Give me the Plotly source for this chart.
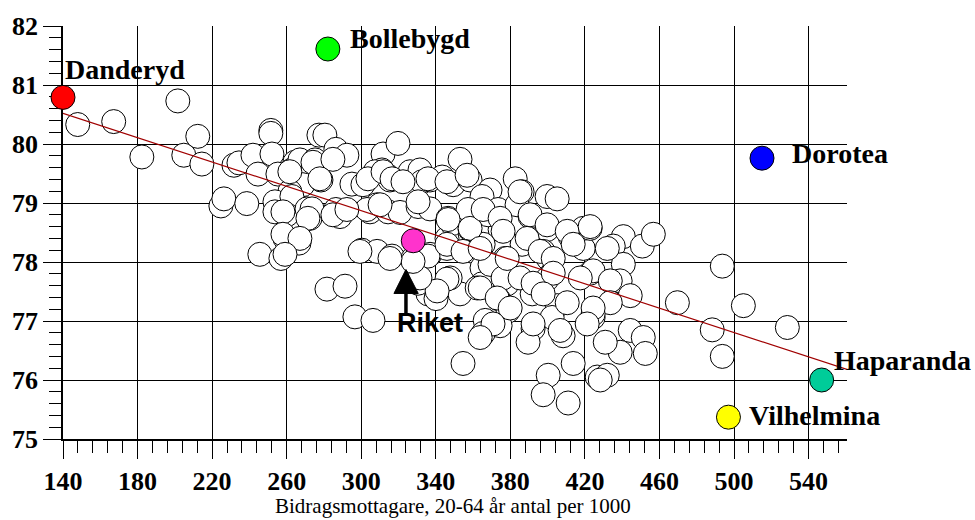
import plotly.graph_objects as go

# Kommuner: bidragsmottagare 20-64 år (antal per 1000) vs medellivslängd
kommun_x = [
    147.9, 167.2, 182.3, 201.6, 204.8, 212.3, 214.5, 224.7, 226.3, 231.7,
    234.4, 238.6, 241.9, 244.6, 251.5, 251.5, 245.6, 256.9,
    252.1, 255.3, 264.4, 262.8, 267.1, 275.2, 277.3, 280.5, 286.4, 292.3,
    274.1, 268.7, 278.4, 261.7, 253.7, 262.8, 253.7, 260.1, 270.9, 272.5,
    259.1, 266.6, 286.4, 288.6, 295.0, 300.9, 281.6, 291.3, 296.6, 306.3,
    311.7, 319.7, 311.1, 313.8, 307.4, 315.4, 326.2, 331.5, 332.6, 336.9,
    343.4, 304.7, 308.5, 303.1, 314.4, 320.8, 330.5, 336.9, 330.5, 300.4,
    308.5, 316.5, 327.8, 336.9, 335.8, 330.5, 341.2, 346.6, 346.6, 346.0,
    340.1, 353.0,
    353.0, 349.3, 358.4, 369.1, 364.8, 382.6, 386.3, 399.7, 405.1, 348.7,
    357.3, 358.4, 363.8, 374.5, 368.1, 373.4, 383.6, 390.6, 399.7, 412.1,
    419.1, 419.1, 346.0, 360.0, 365.4, 377.2, 386.3, 397.6, 400.3, 402.4,
    422.8, 364.8, 347.7, 364.8, 378.3, 335.8, 369.1, 362.2, 373.4, 378.8,
    366.5, 374.5, 365.4, 391.7, 399.7, 405.1, 402.4, 392.2, 389.5, 408.3,
    413.7, 400.3, 397.6, 411.0, 354.6, 424.4, 426.6, 376.1,
    422.8, 440.6, 435.2, 450.8, 456.7, 424.4, 440.6, 438.9, 433.6, 444.3,
    433.6, 424.4, 444.3, 451.3, 452.4, 438.9, 430.9, 432.0, 428.2, 493.7,
    469.6, 505.0, 488.3, 493.7, 528.6,
    274.1, 284.8, 261.7, 277.8, 303.6, 311.7, 316.5, 322.4, 335.8, 346.0,
    356.8, 385.2, 258.0, 273.6, 271.4, 284.8, 292.3, 310.1, 346.6, 358.4,
    365.4, 374.5, 390.6, 399.7, 410.5, 422.8, 389.0, 376.1, 258.0, 267.1,
    259.1, 299.3, 346.0, 354.6, 363.8, 378.3, 396.0, 403.0, 413.7, 432.0,
    346.0, 340.7, 363.8, 372.9, 379.9, 385.2, 392.2, 403.0, 397.6, 410.5,
    417.5, 424.4, 370.7, 392.2, 406.7, 421.2, 363.8, 331.5, 327.8, 315.4,
]
kommun_y = [
    80.33, 80.38, 79.78, 80.73, 79.81, 80.13, 79.66, 78.95, 79.07, 79.64,
    79.68, 78.99, 79.81, 79.49, 80.23, 80.18, 78.13, 78.06,
    79.83, 79.49, 79.69, 79.56, 79.73, 79.73, 80.15, 80.15, 79.91, 79.81,
    79.56, 79.31, 79.39, 79.19, 79.02, 79.11, 78.85, 78.80, 78.90, 78.74,
    78.40, 78.32, 78.89, 78.77, 79.32, 79.31, 77.54, 77.59, 77.07, 77.01,
    79.83, 80.01, 79.56, 79.47, 79.53, 79.39, 79.53, 79.56, 79.36, 79.39,
    79.44, 78.85, 78.97, 78.89, 78.85, 78.84, 78.94, 78.90, 79.02, 78.20,
    78.18, 78.10, 78.06, 78.13, 77.46, 77.64, 77.51, 77.68, 78.74, 78.40,
    77.38, 77.46,
    79.74, 79.31, 79.39, 79.22, 79.11, 79.41, 79.19, 79.11, 79.07, 78.65,
    78.89, 78.55, 78.60, 78.55, 78.80, 78.89, 78.97, 78.77, 78.55, 78.43,
    78.23, 78.57, 78.23, 78.18, 78.30, 78.06, 78.30, 78.18, 78.06, 77.81,
    77.81, 77.90, 77.73, 77.63, 77.63, 78.10, 77.96, 77.56, 77.38, 77.17,
    77.01, 76.92, 76.79, 77.46, 77.71, 77.26, 77.06, 76.87, 76.64, 76.75,
    76.28, 76.08, 75.75, 75.61, 76.28, 77.06, 76.05, 77.73,
    78.57, 78.43, 78.27, 78.27, 78.47, 77.85, 77.96, 77.68, 77.68, 77.43,
    77.31, 77.12, 76.84, 76.72, 76.45, 76.47, 76.64, 76.08, 76.00, 77.93,
    77.31, 77.26, 76.85, 76.40, 76.89,
    79.69, 79.74, 79.53, 79.41, 79.41, 79.53, 79.41, 79.36, 79.41, 79.36,
    79.47, 79.19, 78.85, 78.90, 78.74, 78.80, 78.89, 78.97, 78.72, 78.57,
    78.89, 78.74, 78.80, 78.63, 78.52, 78.60, 78.40, 78.52, 78.47, 78.40,
    78.13, 78.18, 78.30, 78.18, 78.23, 78.06, 78.18, 78.06, 78.30, 78.23,
    77.71, 77.51, 77.56, 77.39, 77.22, 77.73, 77.64, 77.81, 77.46, 77.31,
    77.73, 77.22, 76.95, 76.95, 76.84, 76.95, 76.72, 77.73, 78.01, 78.06,
]

# Utmärkta kommuner och riket
named = ["Danderyd", "Bollebygd", "Dorotea", "Haparanda", "Vilhelmina", "Riket"]
named_x = [140.0, 282.1, 515.0, 547.0, 497.0, 327.9]
named_y = [80.79, 81.61, 79.76, 76.00, 75.37, 78.36]
named_color = ["#ff0000", "#00ff00", "#0000ff", "#00cc99", "#ffff00", "#ff33cc"]

# Etikettplacering (vänsterkant, mitt) för namnen
label_x = [140.0, 292.9, 530.2, 552.6, 507.2]
label_y = [81.27, 81.79, 79.84, 76.33, 75.39]
riket_label = (318.1, 76.96)

# Regressionslinje
trend_x = [140.0, 560.6]
trend_y = [80.52, 76.18]

x_ticks = list(range(140, 541, 40))
y_ticks = list(range(75, 83))

fig = go.Figure()

fig.add_trace(go.Scatter(
    x=kommun_x, y=kommun_y, mode="markers", cliponaxis=False,
    marker=dict(size=24, color="white", line=dict(color="black", width=1)),
    hoverinfo="skip", showlegend=False,
))
fig.add_trace(go.Scatter(
    x=trend_x, y=trend_y, mode="lines", cliponaxis=False,
    line=dict(color="#a00000", width=1.2),
    hoverinfo="skip", showlegend=False,
))
fig.add_trace(go.Scatter(
    x=named_x, y=named_y, mode="markers", cliponaxis=False,
    marker=dict(size=24, color=named_color, line=dict(color="black", width=1)),
    text=named, hoverinfo="text", showlegend=False,
))

serif_bold = dict(family="Liberation Serif", size=28, color="black", weight="bold")
for name, lx, ly in zip(named[:5], label_x, label_y):
    fig.add_annotation(x=lx, y=ly, xref="x", yref="y", text=name, showarrow=False,
                       xanchor="left", yanchor="middle", font=serif_bold)

fig.add_annotation(x=riket_label[0], y=riket_label[1], xref="x", yref="y", text="Riket",
                   showarrow=False, xanchor="left", yanchor="middle",
                   font=dict(family="Liberation Sans", size=27, color="black", weight="bold"))

# Pil från etiketten upp mot riket
rx, ry = named_x[5], named_y[5]
fig.add_shape(type="path", xref="x", yref="y", xsizemode="pixel", ysizemode="pixel",
              xanchor=rx, yanchor=ry,
              path="M -7.3 -28.7 L -19.3 -52.7 L 5 -52.7 Z",
              fillcolor="black", line=dict(color="black", width=1))
fig.add_shape(type="line", xref="x", yref="y", xsizemode="pixel", ysizemode="pixel",
              xanchor=rx, yanchor=ry, x0=-7.3, x1=-7.3, y0=-52, y1=-74,
              line=dict(color="black", width=3.5))

fig.add_annotation(x=0.498, y=-0.163, xref="paper", yref="paper",
                   text="Bidragsmottagare, 20-64 år antal per 1000", showarrow=False,
                   xanchor="center", yanchor="middle", borderpad=0,
                   font=dict(family="Liberation Serif", size=21, color="black"))

tickfont = dict(family="Liberation Serif", size=26, color="black", weight="bold")
fig.update_xaxes(
    range=[140, 560.6], tickmode="array", tickvals=x_ticks, ticktext=[str(v) for v in x_ticks],
    ticks="outside", ticklen=18, tickwidth=1, tickcolor="black",
    showgrid=True, gridcolor="black", gridwidth=1,
    showline=True, linecolor="black", linewidth=1.5, zeroline=False,
    minor=dict(tick0=140, dtick=8, ticks="outside", ticklen=12, tickcolor="black",
               tickwidth=1, showgrid=False),
    tickfont=tickfont, layer="below traces", fixedrange=True,
)
fig.update_yaxes(
    range=[75, 82], tickmode="array", tickvals=y_ticks, ticktext=[str(v) for v in y_ticks],
    ticks="outside", ticklen=18, tickwidth=1, tickcolor="black",
    showgrid=True, gridcolor="black", gridwidth=1,
    showline=True, linecolor="black", linewidth=1.5, zeroline=False,
    minor=dict(tick0=75, dtick=0.2, ticks="outside", ticklen=12, tickcolor="black",
               tickwidth=1, showgrid=False),
    tickfont=tickfont, layer="below traces", fixedrange=True,
)

fig.update_layout(
    width=975, height=520, autosize=False,
    margin=dict(l=63, r=128, t=23, b=81),
    plot_bgcolor="white", paper_bgcolor="white",
    showlegend=False,
)

fig.write_html("out.html", config={"displayModeBar": False})
